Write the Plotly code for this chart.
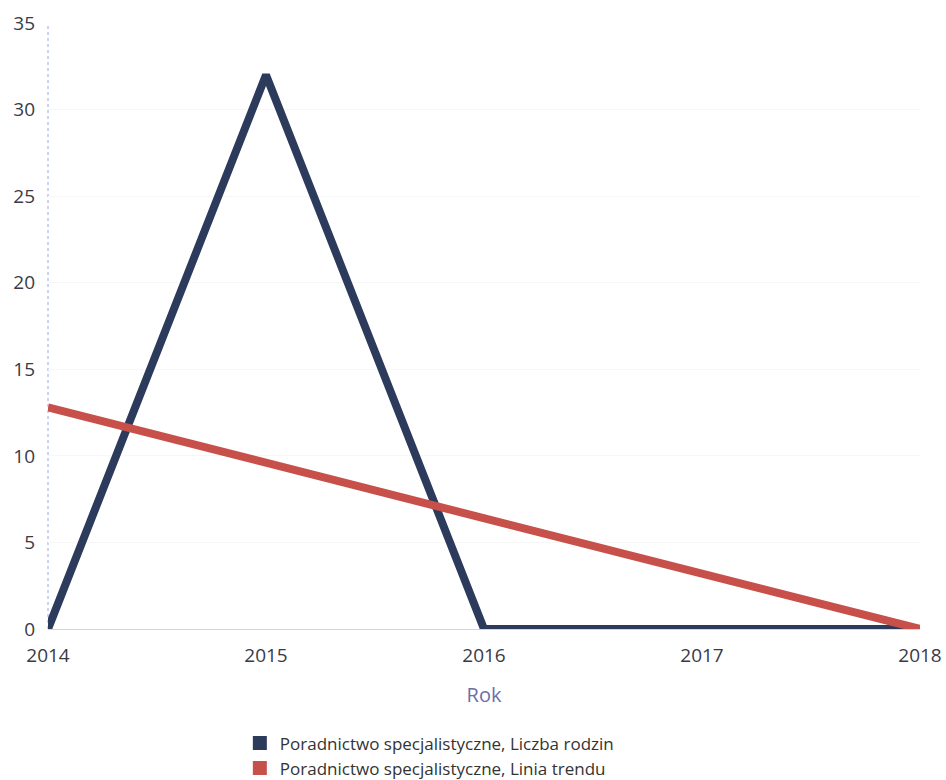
import plotly.graph_objects as go

years = [2014, 2015, 2016, 2017, 2018]
liczba_rodzin = [0, 32, 0, 0, 0]
linia_trendu = [12.8, 9.6, 6.4, 3.2, 0]
names = ["Poradnictwo specjalistyczne, Liczba rodzin",
         "Poradnictwo specjalistyczne, Linia trendu"]
colors = ["#2c3a5c", "#c8504a"]

fig = go.Figure()
for vals, name, col in zip([liczba_rodzin, linia_trendu], names, colors):
    fig.add_trace(go.Scatter(x=years, y=vals, mode="lines", name=name,
                             line=dict(color=col, width=8), showlegend=False))
for name, col in zip(names, colors):
    fig.add_trace(go.Scatter(x=[None], y=[None], mode="markers", name=name,
                             marker=dict(symbol="square", size=14, color=col)))

fig.add_shape(type="line", xref="paper", yref="paper", x0=0, x1=0, y0=0, y1=1,
              line=dict(color="#9aa6dc", width=1, dash="dot"), layer="below")

fig.update_layout(
    width=946, height=780,
    margin=dict(l=48, r=26, t=23, b=151, autoexpand=False),
    paper_bgcolor="white", plot_bgcolor="white",
    font=dict(family="Open Sans, DejaVu Sans, sans-serif", color="#333333", size=19),
    xaxis=dict(range=[2014, 2018], tickvals=years, ticktext=[str(y) for y in years],
               showgrid=False, zeroline=False, showline=False, automargin=False,
               tickfont=dict(size=19, color="#3a3a45"),
               title=dict(text="Rok", font=dict(color="#6a70a8", size=20), standoff=20),
               ticks="", ticklabelstandoff=13),
    yaxis=dict(range=[0, 35], dtick=5, showgrid=True, gridcolor="#f7f7f7",
               zeroline=True, zerolinecolor="#d4d4e0", zerolinewidth=1,
               showline=False, automargin=False,
               tickfont=dict(size=19, color="#3a3a45"),
               ticks="", ticklabelstandoff=12),
    legend=dict(orientation="v", x=0.22, xanchor="left", y=-0.159, yanchor="top",
                font=dict(size=17, color="#333333"), itemwidth=30, tracegroupgap=0),
    showlegend=True,
)
fig.write_html("out.html", config={"displayModeBar": False},
               post_script="document.body.style.margin='0';document.body.style.overflow='hidden';")
